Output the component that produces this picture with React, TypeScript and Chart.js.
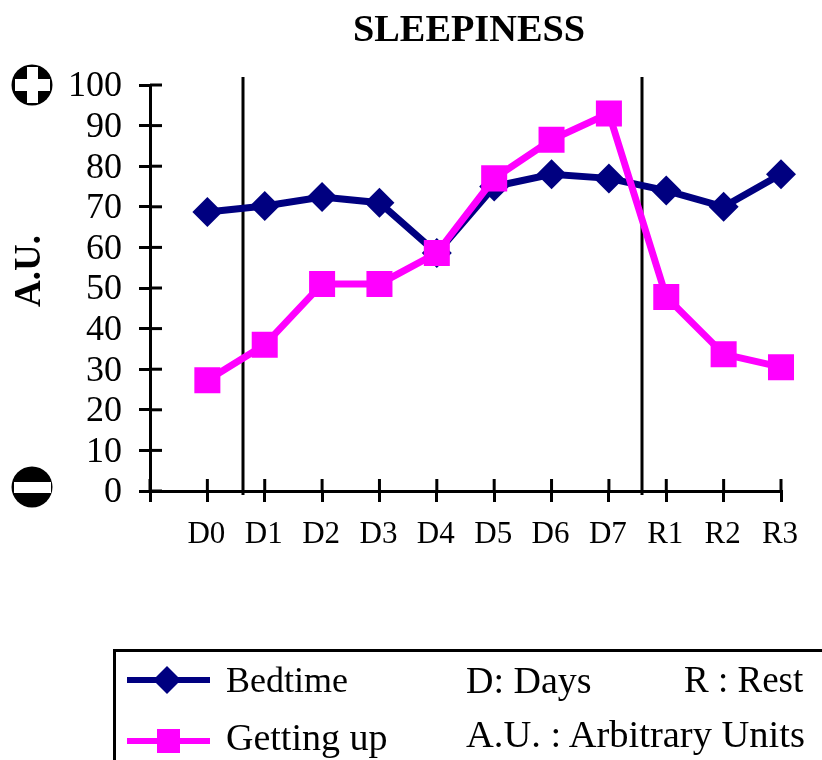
import React, { useEffect, useRef } from "react";
import { Chart, registerables } from "chart.js";

Chart.register(...registerables);

const categories = ["", "D0", "D1", "D2", "D3", "D4", "D5", "D6", "D7", "R1", "R2", "R3"];
const bedtime = [null, 68.7, 70.2, 72.4, 71, 58.6, 75, 78, 77, 74, 70, 78];
const gettingUp = [null, 27.3, 36, 51, 51, 58.6, 77, 86.5, 93, 47.8, 33.7, 30.5];
const phaseDividers = [1.62, 8.58];
const NAVY = "#000080";
const MAGENTA = "#ff00ff";
const SERIF = '"Liberation Serif", "Times New Roman", serif';

const decorations = {
  id: "decorations",
  beforeDatasetsDraw(chart: any) {
    const { ctx, scales } = chart;
    const { x, y } = scales;
    ctx.save();
    ctx.strokeStyle = "#000";
    ctx.lineWidth = 3;
    for (const v of phaseDividers) {
      const px = Math.round(x.getPixelForValue(v));
      ctx.beginPath();
      ctx.moveTo(px, y.getPixelForValue(102));
      ctx.lineTo(px, y.getPixelForValue(-1));
      ctx.stroke();
    }
    // inner half of the crossing tick marks
    ctx.lineWidth = 3;
    for (let i = 0; i < x.ticks.length; i++) {
      const px = x.getPixelForTick(i);
      ctx.beginPath();
      ctx.moveTo(px, y.bottom);
      ctx.lineTo(px, y.bottom - 12);
      ctx.stroke();
    }
    for (let i = 0; i < y.ticks.length; i++) {
      const py = y.getPixelForTick(i);
      ctx.beginPath();
      ctx.moveTo(x.left, py);
      ctx.lineTo(x.left + 12, py);
      ctx.stroke();
    }
    ctx.restore();
  },
};

const textStyle: React.CSSProperties = {
  position: "absolute",
  fontFamily: SERIF,
  color: "#000",
  whiteSpace: "pre",
  lineHeight: 1,
};

function LegendKey({ top, color, square }: { top: number; color: string; square: boolean }) {
  return (
    <svg style={{ position: "absolute", left: 120, top: top - 20, width: 100, height: 40 }}>
      <line x1={7} x2={90} y1={20} y2={20} stroke={color} strokeWidth={6} />
      {square ? (
        <rect x={37} y={8} width={23} height={24} fill={color} />
      ) : (
        <polygon points="47,6 61,20 47,34 33,20" fill={color} />
      )}
    </svg>
  );
}

export default function App() {
  const ref = useRef<HTMLCanvasElement>(null);
  useEffect(() => {
    const chart = new Chart(ref.current!, {
      type: "line",
      data: {
        labels: categories,
        datasets: [
          {
            label: "Bedtime",
            data: bedtime,
            order: 1,
            borderColor: NAVY,
            backgroundColor: NAVY,
            borderWidth: 7,
            tension: 0,
            pointStyle: "rectRot",
            pointRadius: 15,
            pointBorderWidth: 0,
          },
          {
            label: "Getting up",
            data: gettingUp,
            order: 0,
            borderColor: MAGENTA,
            backgroundColor: MAGENTA,
            borderWidth: 7,
            tension: 0,
            pointStyle: "rect",
            pointRadius: 18.4,
            pointBorderWidth: 0,
          },
        ],
      } as any,
      options: {
        animation: false,
        responsive: false,
        layout: { padding: { top: 85, right: 41, left: 0, bottom: 0 } },
        plugins: { legend: { display: false }, title: { display: false }, tooltip: { enabled: false } },
        scales: {
          x: {
            offset: false,
            afterFit: (s: any) => {
              s.height = 269;
            },
            border: { color: "#000", width: 3 },
            grid: { drawOnChartArea: false, drawTicks: true, tickLength: 11, color: "#000", lineWidth: 3 },
            ticks: {
              autoSkip: false,
              maxRotation: 0,
              color: "#000",
              padding: 14,
              labelOffset: -1,
              font: { family: SERIF, size: 31 },
            },
          },
          y: {
            min: 0,
            max: 100,
            afterFit: (s: any) => {
              s.width = 150;
            },
            border: { color: "#000", width: 3 },
            grid: { drawOnChartArea: false, drawTicks: true, tickLength: 11, color: "#000", lineWidth: 3 },
            ticks: {
              stepSize: 10,
              autoSkip: false,
              color: "#000",
              padding: 17,
              labelOffset: 2,
              font: { family: SERIF, size: 36 },
            },
          },
        },
      },
      plugins: [decorations],
    } as any);
    return () => chart.destroy();
  }, []);

  return (
    <div style={{ position: "absolute", left: 0, top: 0, width: 822, height: 760, overflow: "hidden", background: "#fff" }}>
      <canvas ref={ref} width={822} height={760} style={{ position: "absolute", left: 0, top: 0, display: "block" }} />
      <div style={{ ...textStyle, left: 353, top: 9, fontSize: 38.3, fontWeight: "bold" }}>SLEEPINESS</div>
      <div
        style={{
          ...textStyle,
          left: 27,
          top: 271,
          fontSize: 37,
          fontWeight: "bold",
          transform: "translate(-50%, -50%) rotate(-90deg)",
        }}
      >
        A.U.
      </div>
      <svg style={{ position: "absolute", left: 10, top: 62, width: 44, height: 46 }}>
        <circle cx={22} cy={23} r={20.5} fill="#000" />
        <rect x={5} y={17} width={35} height={12} fill="#fff" />
        <rect x={17} y={5} width={11} height={36} fill="#fff" />
      </svg>
      <svg style={{ position: "absolute", left: 10, top: 464, width: 44, height: 46 }}>
        <circle cx={22} cy={23} r={20.5} fill="#000" />
        <rect x={4} y={18} width={37} height={11} fill="#fff" />
      </svg>
      <div
        style={{
          position: "absolute",
          left: 113,
          top: 649,
          width: 720,
          height: 130,
          border: "3px solid #000",
          boxSizing: "border-box",
        }}
      />
      <LegendKey top={680} color={NAVY} square={false} />
      <LegendKey top={741} color={MAGENTA} square={true} />
      <div style={{ ...textStyle, left: 226, top: 662, fontSize: 36 }}>Bedtime</div>
      <div style={{ ...textStyle, left: 226, top: 718, fontSize: 38 }}>Getting up</div>
      <div style={{ ...textStyle, left: 466, top: 661, fontSize: 38 }}>D: Days</div>
      <div style={{ ...textStyle, left: 684, top: 661, fontSize: 37 }}>R : Rest</div>
      <div style={{ ...textStyle, left: 466, top: 715, fontSize: 38.5 }}>A.U. : Arbitrary Units</div>
    </div>
  );
}
